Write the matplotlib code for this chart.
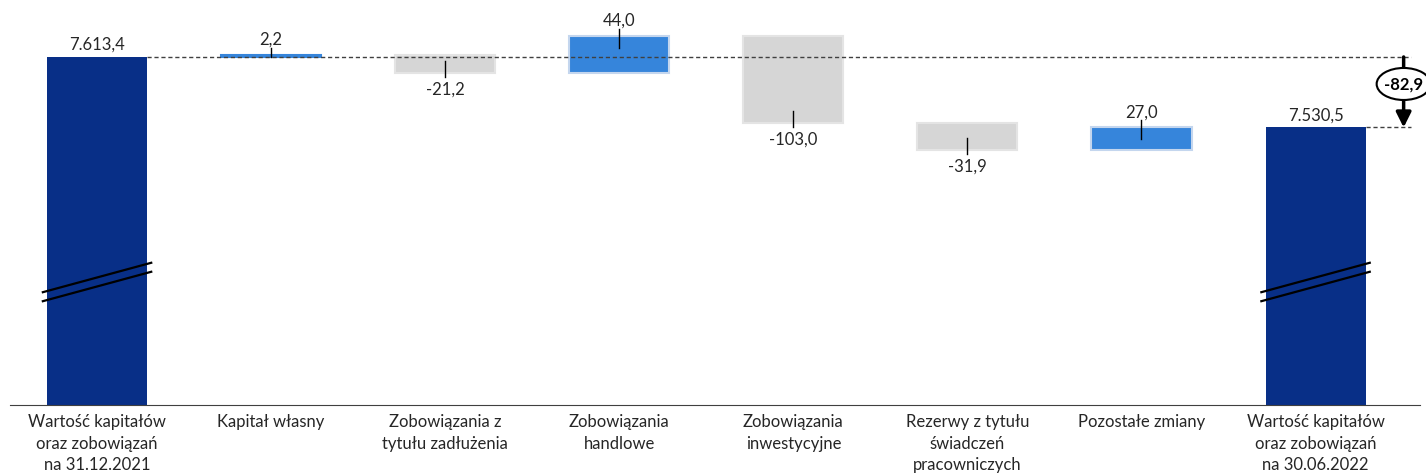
import numpy as np
import matplotlib.pyplot as plt
from matplotlib.patches import Ellipse

plt.rcParams['font.family'] = ['Lato', 'DejaVu Sans']

categories = ['Wartość kapitałów\noraz zobowiązań\nna 31.12.2021',
              'Kapitał własny',
              'Zobowiązania z\ntytułu zadłużenia',
              'Zobowiązania\nhandlowe',
              'Zobowiązania\ninwestycyjne',
              'Rezerwy z tytułu\nświadczeń\npracowniczych',
              'Pozostałe zmiany',
              'Wartość kapitałów\noraz zobowiązań\nna 30.06.2022']
start_value = 7613.4
changes = [2.2, -21.2, 44.0, -103.0, -31.9, 27.0]
end_value = 7530.5
total_change = -82.9

NAVY = '#082F87'
BLUE = '#3685DB'
GRAY = '#D6D6D6'
TEXT = '#262626'


def fmt(v: float) -> str:
    """polish number format: dot for thousands, comma for decimals"""
    s = f"{abs(v):,.1f}".replace(",", " ").replace(".", ",").replace(" ", ".")
    return "-" + s if v < 0 else s


fig = plt.figure(figsize=(14.26, 4.77), dpi=100)
ax = fig.add_axes([10 / 1426, 71 / 477, 1410 / 1426, 406 / 477])
ax.set_xlim(-0.5, 7.6)
ax.set_ylim(7204, 7681.6)

px = (7681.6 - 7204) / 406   # data units per pixel
width = 0.575

# totals
ax.bar([0, 7], [start_value, end_value], width=width, color=NAVY, zorder=2)
ax.text(0, start_value + 5 * px, fmt(start_value), ha='center', va='bottom', fontsize=12, color=TEXT)
ax.text(7, end_value + 5 * px, fmt(end_value), ha='center', va='bottom', fontsize=12, color=TEXT)

# steps
running = start_value
for i, ch in enumerate(changes, start=1):
    bottom = running if ch > 0 else running + ch
    color = BLUE if ch > 0 else GRAY
    edge = '#C4D6EE' if ch > 0 else '#E4E4E4'
    if abs(ch) / px < 6:
        edge = color
    ax.bar(i, abs(ch), bottom=bottom, width=width, color=color, edgecolor=edge, linewidth=1.5, zorder=2)
    inside = min(12 * px, abs(ch))
    if ch > 0:
        top = running + ch
        ax.plot([i, i], [top + 7 * px, top - inside], color='black', lw=1, zorder=4)
        ax.text(i, top + 8 * px, fmt(ch), ha='center', va='bottom', fontsize=12, color=TEXT)
    else:
        low = running + ch
        ax.plot([i, i], [low - 4 * px, low + inside], color='black', lw=1, zorder=4)
        ax.text(i, low - 7 * px, fmt(ch), ha='center', va='top', fontsize=12, color=TEXT)
    running += ch

# reference lines
ax.plot([width / 2, 7.55], [start_value, start_value], color='#404040', lw=1, ls=(0, (3, 2)), zorder=3)
ax.plot([7 + width / 2, 7.55], [end_value, end_value], color='#404040', lw=1, ls=(0, (3, 2)), zorder=3)

# axis break marks on the total bars
for x in [0, 7]:
    for dy in [0, -9 * px]:
        xs = np.array([x - width / 2 - 0.03, x + width / 2 + 0.03])
        ys = 7354 + dy + np.array([-15, 15]) * px
        ax.plot(xs, ys, color='black', lw=1.6, zorder=3, solid_capstyle='butt')

# total change arrow with the ellipse label
xa = 7.506
ax.annotate('', xy=(xa, end_value), xytext=(xa, start_value),
            arrowprops=dict(arrowstyle='-|>,head_width=0.45,head_length=0.9', color='black', lw=2.5, shrinkA=0, shrinkB=0),
            zorder=5, annotation_clip=False)
ax.add_patch(Ellipse((xa, start_value - 27 * px), 0.31, 32 * px, facecolor='white', edgecolor='black', lw=1.5,
                     zorder=6, clip_on=False))
ax.text(xa, start_value - 27 * px, fmt(total_change), ha='center', va='center', fontsize=12, fontweight='bold',
        color='black', zorder=7, clip_on=False)

ax.set_xticks(range(len(categories)))
ax.set_xticklabels(categories, fontsize=12, color=TEXT, linespacing=1.4)
ax.tick_params(axis='x', length=0, pad=6)
ax.set_yticks([])
for side in ['top', 'left', 'right']:
    ax.spines[side].set_visible(False)
ax.spines['bottom'].set_color('#404040')

fig.savefig('out.png', dpi=100)
